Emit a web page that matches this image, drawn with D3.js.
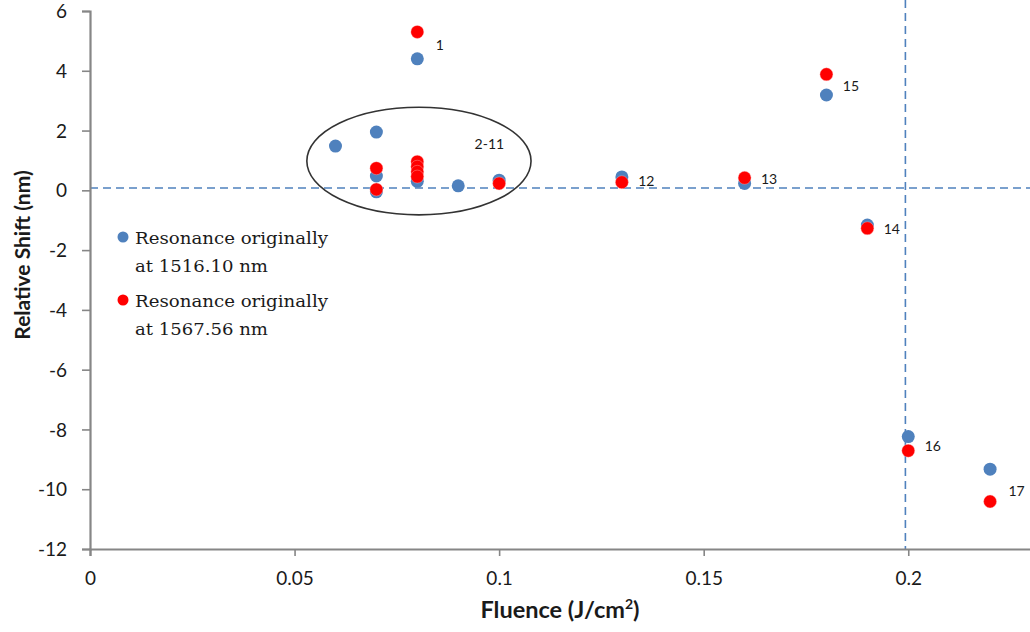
<!DOCTYPE html>
<html>
<head>
<meta charset="utf-8">
<script src="https://cdn.jsdelivr.net/npm/d3@7"></script>
<style>
  html, body { margin: 0; padding: 0; background: #fff; }
  svg { display: block; }
</style>
</head>
<body>
<svg id="chart" width="1030" height="632"></svg>
<script>
// Fluence (J/cm²) and relative shift (nm) for the two resonances
const blueX = [0.08, 0.06, 0.07, 0.07, 0.07, 0.08, 0.09, 0.10, 0.13, 0.16, 0.18, 0.19, 0.20, 0.22];
const blueY = [4.40, 1.48, 1.95, 0.48, -0.05, 0.30, 0.15, 0.34, 0.45, 0.23, 3.19, -1.16, -8.24, -9.33];
const redX  = [0.08, 0.07, 0.07, 0.08, 0.08, 0.08, 0.08, 0.10, 0.13, 0.16, 0.18, 0.19, 0.20, 0.22];
const redY  = [5.30, 0.74, 0.03, 0.96, 0.79, 0.62, 0.46, 0.23, 0.27, 0.42, 3.88, -1.27, -8.71, -10.41];

const xTicks = [0, 0.05, 0.1, 0.15, 0.2];
const yTicks = [6, 4, 2, 0, -2, -4, -6, -8, -10, -12];

// Sample number labels, anchored at a fluence / shift position
const labelText = ["1", "2-11", "12", "13", "14", "15", "16", "17"];
const labelX    = [0.0845, 0.094, 0.134, 0.164, 0.194, 0.184, 0.204, 0.2245];
const labelY    = [4.85, 1.55, 0.3, 0.37, -1.3, 3.48, -8.55, -10.05];

const legendText = [["Resonance originally", "at 1516.10 nm"], ["Resonance originally", "at 1567.56 nm"]];

const BLUE = "#4F81BD", RED = "#FF0000", AXIS = "#868686";
const SANS = "Lato, 'Open Sans', sans-serif";

const svg = d3.select("#chart");
const x = d3.scaleLinear().domain([0, 0.23]).range([90, 1031]);
const y = d3.scaleLinear().domain([-12, 6]).range([549, 11]);

// Reference lines
svg.append("line")
  .attr("x1", x(0)).attr("x2", x(0.23))
  .attr("y1", y(0.08)).attr("y2", y(0.08))
  .attr("stroke", BLUE).attr("stroke-width", 1.6).attr("stroke-dasharray", "8,5");
svg.append("line")
  .attr("x1", x(0.1993)).attr("x2", x(0.1993))
  .attr("y1", 0).attr("y2", y(-12))
  .attr("stroke", BLUE).attr("stroke-width", 1.6).attr("stroke-dasharray", "8,5");

// Axes
const xAxis = svg.append("g")
  .attr("transform", `translate(0,${y(-12)})`)
  .call(d3.axisBottom(x).tickValues(xTicks).tickFormat(d => String(d)).tickSize(7));
const yAxis = svg.append("g")
  .attr("transform", `translate(${x(0)},0)`)
  .call(d3.axisLeft(y).tickValues(yTicks).tickFormat(d => String(d)).tickSize(8));

[xAxis, yAxis].forEach(g => {
  g.select(".domain").attr("stroke", AXIS).attr("stroke-width", 2.2);
  g.selectAll(".tick line").attr("stroke", AXIS).attr("stroke-width", 1.6);
  g.selectAll(".tick text").attr("fill", "#1a1a1a")
    .style("font-family", SANS).style("font-size", "19px");
});
xAxis.selectAll(".tick text").attr("y", 36).attr("dy", 0);
yAxis.selectAll(".tick text").attr("x", -23).attr("dy", "0.35em");

// Axis titles
svg.append("text")
  .attr("x", 560).attr("y", 618)
  .attr("text-anchor", "middle")
  .style("font-family", SANS).style("font-size", "23.5px").style("font-weight", "bold")
  .attr("fill", "#1a1a1a")
  .call(t => {
    t.append("tspan").text("Fluence (J/cm");
    t.append("tspan").text("2").attr("dy", -9).style("font-size", "14px");
    t.append("tspan").text(")").attr("dy", 9);
  });
svg.append("text")
  .attr("transform", "translate(30,255) rotate(-90)")
  .attr("text-anchor", "middle")
  .style("font-family", SANS).style("font-size", "21px").style("font-weight", "bold")
  .attr("fill", "#1a1a1a")
  .text("Relative Shift (nm)");

// Grouping ellipse around samples 2-11
svg.append("ellipse")
  .attr("cx", x(0.0804)).attr("cy", y(0.98))
  .attr("rx", x(0.0274) - x(0)).attr("ry", y(0) - y(1.8))
  .attr("fill", "none").attr("stroke", "#333").attr("stroke-width", 1.6);

// Points
const r = 6.5;
svg.append("g").selectAll("circle").data(d3.range(blueX.length)).join("circle")
  .attr("cx", i => x(blueX[i])).attr("cy", i => y(blueY[i])).attr("r", r)
  .attr("fill", BLUE);
svg.append("g").selectAll("circle").data(d3.range(redX.length)).join("circle")
  .attr("cx", i => x(redX[i])).attr("cy", i => y(redY[i])).attr("r", r)
  .attr("fill", RED).attr("stroke", "rgba(255,200,200,0.6)").attr("stroke-width", 0.6);

// Sample labels
svg.append("g").selectAll("text").data(d3.range(labelText.length)).join("text")
  .attr("x", i => x(labelX[i])).attr("y", i => y(labelY[i]))
  .attr("dy", "0.35em")
  .style("font-family", SANS).style("font-size", "14px")
  .attr("fill", "#1a1a1a")
  .text(i => labelText[i]);

// Legend
const legend = svg.append("g").attr("transform", "translate(123,237)");
[BLUE, RED].forEach((c, i) => {
  const g = legend.append("g").attr("transform", `translate(0,${i * 63})`);
  g.append("circle").attr("r", 5.5).attr("fill", c);
  legendText[i].forEach((line, j) => {
    g.append("text")
      .attr("x", 12).attr("y", 7 + j * 28)
      .style("font-family", "'DejaVu Serif', 'Liberation Serif', serif").style("font-size", "17px")
      .attr("fill", "#1a1a1a")
      .attr("textLength", j === 0 ? 193 : 133).attr("lengthAdjust", "spacingAndGlyphs")
      .text(line);
  });
});
</script>
</body>
</html>
